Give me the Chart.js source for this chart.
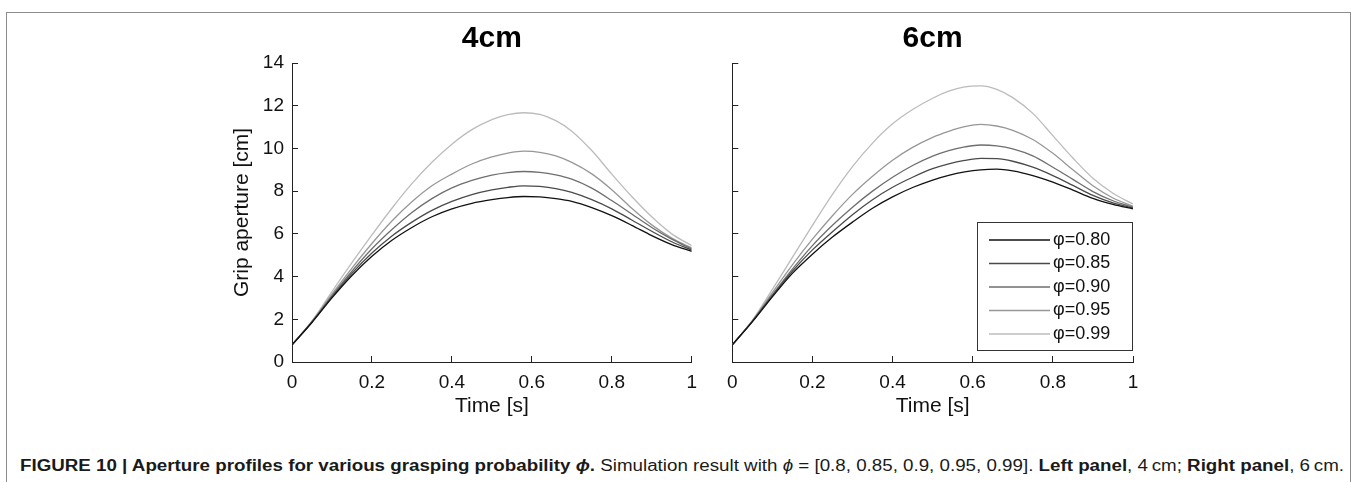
<!DOCTYPE html>
<html>
<head>
<meta charset="utf-8">
<script src="https://cdn.jsdelivr.net/npm/chart.js@4/dist/chart.umd.min.js"></script>
<style>
  body { margin: 0; background: #fff; width: 1358px; height: 482px; overflow: hidden; position: relative; font-family: "Liberation Sans", Arial, sans-serif; }
  #frame { position: absolute; left: 6px; top: 12px; width: 1345px; height: 480px; border: 1px solid #8c8c8c; box-sizing: border-box; }
  #left-wrap { position: absolute; left: 0; top: 0; width: 712px; height: 430px; }
  #right-wrap { position: absolute; left: 712px; top: 0; width: 646px; height: 430px; }
  #caption { position: absolute; left: 20px; top: 457px; font-size: 16px; white-space: nowrap; color: #1a1a1a; transform-origin: 0 0; }
</style>
</head>
<body>
<div id="frame"></div>
<div id="left-wrap"><canvas id="left-chart" width="712" height="430"></canvas></div>
<div id="right-wrap"><canvas id="right-chart" width="646" height="430"></canvas></div>
<div id="caption"><b>FIGURE 10 | Aperture profiles for various grasping probability <i>ϕ</i>.</b> Simulation result with <i>ϕ</i> = [0.8, 0.85, 0.9, 0.95, 0.99]. <b>Left panel</b>, 4&#8201;cm; <b>Right panel</b>, 6&#8201;cm.</div>

<script>
'use strict';

// time samples [s], denser around the peak
let timeSec = [0, 0.05, 0.1, 0.15, 0.2, 0.25, 0.3, 0.35, 0.4, 0.45, 0.5, 0.54, 0.58, 0.62, 0.66, 0.7, 0.75, 0.8, 0.85, 0.9, 0.95, 1];

let phiLabels = ['φ=0.80', 'φ=0.85', 'φ=0.90', 'φ=0.95', 'φ=0.99'];
let lineColors = ['#111111', '#4a4a4a', '#6e6e6e', '#979797', '#bcbcbc'];

let xTickLabels = ['0', '0.2', '0.4', '0.6', '0.8', '1'];
let yTickLabels = ['0', '2', '4', '6', '8', '10', '12', '14'];

// 4cm object, grip aperture [cm]
let left080 = [0.8, 1.85, 3.0, 4.05, 4.95, 5.7, 6.3, 6.8, 7.17, 7.43, 7.6, 7.7, 7.75, 7.73, 7.65, 7.52, 7.23, 6.85, 6.4, 5.92, 5.5, 5.18];
let left085 = [0.8, 1.87, 3.05, 4.15, 5.1, 5.9, 6.55, 7.1, 7.52, 7.84, 8.06, 8.18, 8.25, 8.22, 8.12, 7.94, 7.6, 7.17, 6.65, 6.12, 5.63, 5.24];
let left090 = [0.8, 1.89, 3.1, 4.25, 5.3, 6.2, 7.0, 7.65, 8.15, 8.5, 8.75, 8.87, 8.92, 8.88, 8.76, 8.56, 8.14, 7.56, 6.93, 6.3, 5.75, 5.29];
let left095 = [0.8, 1.9, 3.18, 4.4, 5.55, 6.6, 7.5, 8.25, 8.8, 9.27, 9.6, 9.78, 9.87, 9.82, 9.65, 9.35, 8.81, 8.07, 7.2, 6.42, 5.8, 5.34];
let left099 = [0.8, 1.92, 3.3, 4.65, 5.95, 7.2, 8.35, 9.35, 10.2, 10.88, 11.35, 11.58, 11.67, 11.59, 11.3, 10.81, 9.9, 8.8, 7.75, 6.8, 6.0, 5.45];

// 6cm object, grip aperture [cm]
let right080 = [0.8, 1.88, 3.05, 4.15, 5.05, 5.85, 6.55, 7.2, 7.73, 8.17, 8.52, 8.74, 8.9, 9.0, 9.03, 8.95, 8.73, 8.42, 8.05, 7.66, 7.38, 7.17];
let right085 = [0.8, 1.9, 3.1, 4.25, 5.25, 6.1, 6.9, 7.6, 8.18, 8.65, 9.05, 9.28, 9.44, 9.53, 9.52, 9.4, 9.12, 8.73, 8.27, 7.8, 7.45, 7.21];
let right090 = [0.8, 1.91, 3.15, 4.35, 5.45, 6.4, 7.25, 8.0, 8.65, 9.2, 9.64, 9.9, 10.07, 10.16, 10.12, 9.98, 9.65, 9.12, 8.55, 7.98, 7.55, 7.25];
let right095 = [0.8, 1.93, 3.25, 4.55, 5.75, 6.85, 7.85, 8.7, 9.45, 10.05, 10.52, 10.8, 11.02, 11.13, 11.05, 10.85, 10.42, 9.77, 9.0, 8.25, 7.68, 7.29];
let right099 = [0.8, 1.95, 3.4, 4.9, 6.4, 7.85, 9.15, 10.25, 11.15, 11.82, 12.35, 12.68, 12.88, 12.93, 12.77, 12.38, 11.64, 10.6, 9.55, 8.6, 7.9, 7.4];

Chart.defaults.font.family = '"Liberation Sans", Arial, sans-serif';
Chart.defaults.color = '#111';

function makeDatasets(seriesList) {
  return seriesList.map(function (vals, i) {
    return {
      label: phiLabels[i],
      data: vals.map(function (v, j) { return { x: timeSec[j], y: v }; }),
      borderColor: lineColors[i],
      borderWidth: 1.3,
      pointRadius: 0,
      cubicInterpolationMode: 'monotone',
      fill: false
    };
  });
}

function makeScales(showYLabels, yWidth) {
  return {
    x: {
      type: 'linear', min: 0, max: 1,
      border: { display: true, color: '#222', width: 1 },
      grid: { drawOnChartArea: false, tickLength: -6, color: '#222' },
      ticks: {
        stepSize: 0.2, padding: 15, maxRotation: 0,
        font: { size: 19 }, color: '#111',
        callback: function (v, i) { return xTickLabels[i]; }
      },
      title: { display: true, text: 'Time [s]', font: { size: 21 }, color: '#111', padding: { top: 0, bottom: 11 } },
      afterFit: function (s) { s.height = 68; }
    },
    y: {
      type: 'linear', min: 0, max: 14,
      border: { display: true, color: '#222', width: 1 },
      grid: { drawOnChartArea: false, tickLength: -6, color: '#222' },
      ticks: {
        display: showYLabels,
        stepSize: 2, padding: 14,
        font: { size: 19 }, color: '#111',
        callback: function (v, i) { return yTickLabels[i]; }
      },
      title: { display: showYLabels, text: 'Grip aperture [cm]', font: { size: 21 }, color: '#111', padding: { top: 230, bottom: 0 } },
      afterFit: function (s) { s.width = yWidth; }
    }
  };
}

// legend box drawn inside the right panel
let boxLegend = {
  id: 'boxLegend',
  afterDraw: function (chart) {
    let ctx = chart.ctx;
    let area = chart.chartArea;
    let w = 155, h = 128;
    let left = area.right - 1 - w;
    let top = area.top + 159;
    ctx.save();
    ctx.fillStyle = '#fff';
    ctx.fillRect(left, top, w, h);
    ctx.strokeStyle = '#333';
    ctx.lineWidth = 1;
    ctx.strokeRect(left + 0.5, top + 0.5, w, h);
    ctx.font = '18px "Liberation Sans", Arial, sans-serif';
    ctx.textBaseline = 'middle';
    ctx.fillStyle = '#111';
    chart.data.datasets.forEach(function (ds, i) {
      let y = top + 18 + i * 23.5;
      ctx.strokeStyle = ds.borderColor;
      ctx.lineWidth = 1.3;
      ctx.beginPath();
      ctx.moveTo(left + 12, y);
      ctx.lineTo(left + 73, y);
      ctx.stroke();
      ctx.fillText(ds.label, left + 76, y);
    });
    ctx.restore();
  }
};

function makeChart(canvasId, titleText, seriesList, showYLabels, yWidth, padRight, plugins) {
  return new Chart(document.getElementById(canvasId).getContext('2d'), {
    type: 'line',
    data: { datasets: makeDatasets(seriesList) },
    options: {
      responsive: false,
      animation: false,
      layout: { padding: { left: 0, right: padRight, top: 0, bottom: 0 } },
      plugins: {
        legend: { display: false },
        tooltip: { enabled: false },
        title: {
          display: true, text: titleText, fullSize: false,
          font: { size: 30, weight: 'bold' }, color: '#000',
          padding: { top: 21, bottom: 6 }
        }
      },
      scales: makeScales(showYLabels, yWidth)
    },
    plugins: plugins
  });
}

makeChart('left-chart', '4cm', [left080, left085, left090, left095, left099], true, 292, 13, []);
makeChart('right-chart', '6cm', [right080, right085, right090, right095, right099], false, 14, 225, [boxLegend]);

// stretch caption to the figure width
let caption = document.getElementById('caption');
let natural = caption.getBoundingClientRect().width;
caption.style.transform = 'scaleX(' + (1324 / natural) + ')';
</script>
</body>
</html>
